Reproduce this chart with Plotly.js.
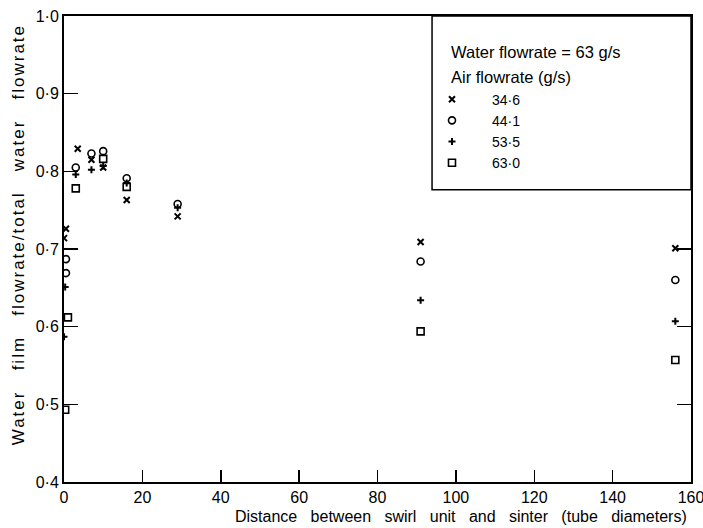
<!DOCTYPE html>
<html>
<head>
<meta charset="utf-8">
<script src="https://cdn.plot.ly/plotly-3.0.1.min.js"></script>
<style>
html,body{margin:0;padding:0;background:#fff;}
#chart{width:703px;height:528px;}
#chart g.annotation[data-index="3"] text{letter-spacing:2px;}
</style>
</head>
<body>
<div id="chart"></div>
<script>
// Air flowrate series (g/s) with water flowrate = 63 g/s
const seriesNames = ["34·6", "44·1", "53·5", "63·0"];

const x346 = [0, 0.5, 3.5, 7, 10, 16, 29, 91, 156];
const y346 = [0.714, 0.726, 0.829, 0.815, 0.805, 0.763, 0.742, 0.709, 0.701];

const x441 = [0.5, 0.5, 3, 7, 10, 16, 29, 91, 156];
const y441 = [0.687, 0.669, 0.805, 0.823, 0.826, 0.791, 0.758, 0.684, 0.660];

const x535 = [0.3, 0, 3, 7, 10, 16, 29, 91, 156];
const y535 = [0.651, 0.587, 0.796, 0.802, 0.807, 0.785, 0.753, 0.634, 0.607];

const x630 = [1, 0.3, 3, 10, 16, 91, 156];
const y630 = [0.612, 0.493, 0.778, 0.816, 0.780, 0.594, 0.557];

const xTickVals = [0, 20, 40, 60, 80, 100, 120, 140, 160];
const xTickText = ["0", "20", "40", "60", "80", "100", "120", "140", "160"];
const yTickVals = [0.4, 0.5, 0.6, 0.7, 0.8, 0.9, 1.0];
const yTickText = ["0·4", "0·5", "0·6", "0·7", "0·8", "0·9", "1·0"];

const headerLines = ["Water flowrate = 63 g/s", "Air flowrate (g/s)"];
const SPX = "&nbsp;&nbsp;&nbsp;";
const SPY = "&nbsp;&nbsp;&nbsp;";
const xTitle = ["Distance", "between", "swirl", "unit", "and", "sinter", "(tube", "diameters)"].join(SPX);
const yTitle = ["Water", "film", "flowrate/total", "water", "flowrate"].join(SPY);

const FONT = "Liberation Sans, DejaVu Sans, sans-serif";

const traces = [
  {x: x346, y: y346, name: seriesNames[0], mode: "markers", type: "scatter",
   marker: {symbol: "x-thin-open", size: 6, color: "#000", line: {width: 2, color: "#000"}}},
  {x: x441, y: y441, name: seriesNames[1], mode: "markers", type: "scatter",
   marker: {symbol: "circle-open", size: 7, color: "#000", line: {width: 1.6, color: "#000"}}},
  {x: x535, y: y535, name: seriesNames[2], mode: "markers", type: "scatter",
   marker: {symbol: "cross-thin-open", size: 5, color: "#000", line: {width: 2, color: "#000"}}},
  {x: x630, y: y630, name: seriesNames[3], mode: "markers", type: "scatter",
   marker: {symbol: "square-open", size: 7, color: "#000", line: {width: 1.6, color: "#000"}}}
];

const layout = {
  width: 703, height: 528,
  margin: {l: 64, r: 12, t: 16, b: 46},
  paper_bgcolor: "#fff", plot_bgcolor: "#fff",
  font: {family: FONT, size: 13, color: "#000"},
  showlegend: true,
  legend: {
    x: 0.555, y: 0.855, xanchor: "left", yanchor: "top",
    bgcolor: "rgba(0,0,0,0)", borderwidth: 0,
    font: {family: FONT, size: 14, color: "#000"},
    itemwidth: 70, tracegroupgap: 0
  },
  xaxis: {
    range: [0, 160], tickmode: "array", tickvals: xTickVals, ticktext: xTickText,
    ticks: "inside", ticklen: 12, tickwidth: 1.5, tickcolor: "#000",
    showline: true, linecolor: "#000", linewidth: 2, mirror: true,
    showgrid: false, zeroline: false, ticklabeloverflow: "allow",
    tickfont: {family: FONT, size: 16, color: "#000"}
  },
  yaxis: {
    range: [0.4, 1.0], tickmode: "array", tickvals: yTickVals, ticktext: yTickText,
    ticks: "inside", ticklen: 14, tickwidth: 1.5, tickcolor: "#000",
    showline: true, linecolor: "#000", linewidth: 2, mirror: "ticks",
    showgrid: false, zeroline: false, ticklabeloverflow: "allow",
    tickfont: {family: FONT, size: 16, color: "#000"}
  },
  shapes: [{
    type: "rect", xref: "paper", yref: "paper", layer: "above",
    x0: 0.587, x1: 1.0, y0: 0.627, y1: 1.0,
    fillcolor: "#fff", line: {color: "#000", width: 1.5}
  }],
  annotations: [
    {xref: "paper", yref: "paper", x: 0.614, y: 0.923, xanchor: "left", yanchor: "middle",
     text: headerLines[0], showarrow: false, font: {family: FONT, size: 16.5, color: "#000"}},
    {xref: "paper", yref: "paper", x: 0.614, y: 0.869, xanchor: "left", yanchor: "middle",
     text: headerLines[1], showarrow: false, font: {family: FONT, size: 16.5, color: "#000"}},
    {xref: "paper", yref: "paper", x: 0.633, y: -0.075, xanchor: "center", yanchor: "middle",
     text: xTitle, showarrow: false, font: {family: FONT, size: 16, color: "#000"}},
    {xref: "paper", yref: "paper", x: -0.073, y: 0.53, xanchor: "center", yanchor: "middle",
     textangle: -90, text: yTitle, showarrow: false, font: {family: FONT, size: 17, color: "#000"}}
  ]
};

Plotly.newPlot("chart", traces, layout, {displayModeBar: false, staticPlot: true});
</script>
</body>
</html>
